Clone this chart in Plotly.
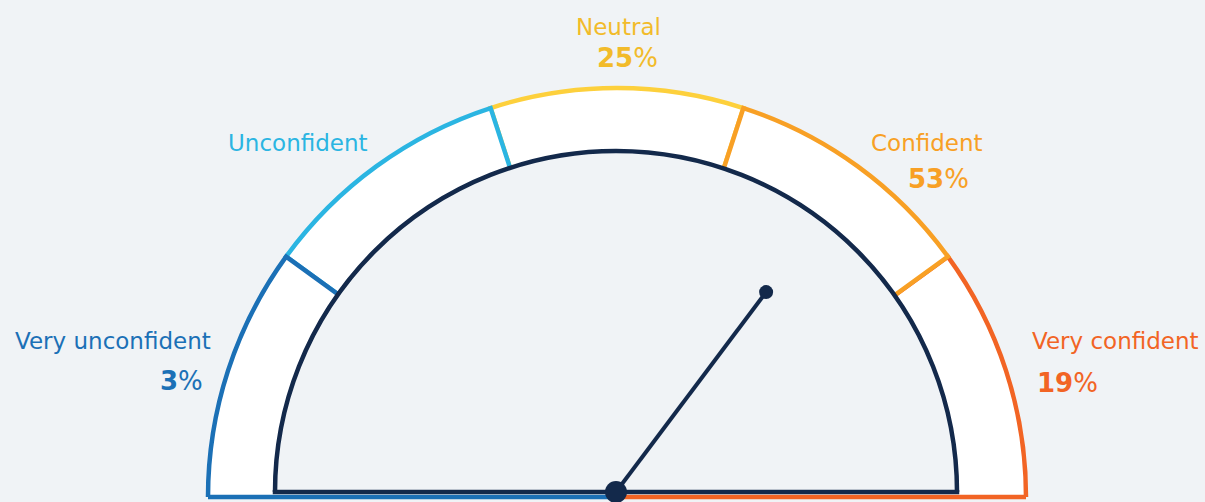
import plotly.graph_objects as go

# ---------------- data ----------------
categories = ["Very unconfident", "Unconfident", "Neutral", "Confident", "Very confident"]
percentages = [3, None, 25, 53, 19]          # Unconfident shows no percentage
seg_colors = ["#1b70b6", "#2bb5e2", "#fdd03c", "#f8a025", "#f26424"]
text_colors = ["#1b70b6", "#2bb5e2", "#f2bb2a", "#f8a025", "#f26424"]
needle_score = 3.82                          # on the 1..5 scale
scale_min, scale_max = 1, 5

# ---------------- styling / geometry ----------------
W, H = 1205, 502
BG = "#f0f3f6"
NAVY = "#13294b"
R_OUT = 409          # outer ring radius (px)
R_IN = 341           # inner semicircle radius (px)
PAD = 12             # radial padding so strokes are not clipped
C_RING = (617, 497)      # centre of outer ring (px, from top-left)
C_BASE = (617, 499.5)    # base coloured line (upper half of a thick line shows)
C_INNER = (616, 492)     # centre of inner semicircle
C_NAVYBASE = (616, 494.5)
LW = 4.5

def dom(c, r):
    cx, cy = c
    return dict(x=[(cx - r) / W, (cx + r) / W],
                y=[(H - cy) / H, (H - cy + r) / H])

n = len(categories)
span = 180.0 / n
centers = [span * i + span / 2 for i in range(n)]
draw_order = [2, 4, 1, 0, 3]

fig = go.Figure()

# ring segments (white band with coloured outline)
for i in draw_order:
    fig.add_trace(go.Barpolar(
        r=[R_OUT], base=[0], theta=[centers[i]], width=[span],
        marker=dict(color="white", line=dict(color=seg_colors[i], width=LW)),
        hoverinfo="skip", subplot="polar", name=categories[i]))

# bottom base lines of the ring (lower half is clipped at the sector edge)
fig.add_trace(go.Scatterpolar(r=[0, R_OUT], theta=[0, 0], mode="lines",
                              line=dict(color=seg_colors[0], width=2 * LW),
                              hoverinfo="skip", subplot="polar2"))
fig.add_trace(go.Scatterpolar(r=[0, R_OUT], theta=[180, 180], mode="lines",
                              line=dict(color=seg_colors[-1], width=2 * LW),
                              hoverinfo="skip", subplot="polar2"))

# inner semicircle
fig.add_trace(go.Barpolar(
    r=[R_IN], base=[0], theta=[90], width=[180],
    marker=dict(color=BG, line=dict(color=NAVY, width=LW)),
    hoverinfo="skip", subplot="polar3"))
fig.add_trace(go.Scatterpolar(
    r=[R_IN + LW / 2, 0, R_IN + LW / 2], theta=[0, 0, 180], mode="lines",
    line=dict(color=NAVY, width=2 * LW), hoverinfo="skip", subplot="polar4"))

# needle
needle_theta = (needle_score - scale_min) / (scale_max - scale_min) * 180
fig.add_trace(go.Scatterpolar(
    r=[0, 250], theta=[needle_theta, needle_theta], mode="lines",
    line=dict(color=NAVY, width=4), cliponaxis=False, hoverinfo="skip",
    subplot="polar5"))
fig.add_trace(go.Scatterpolar(
    r=[250, 0], theta=[needle_theta, needle_theta], mode="markers",
    marker=dict(color=NAVY, size=[14, 22], opacity=1, line=dict(width=0)),
    cliponaxis=False, hoverinfo="skip", subplot="polar5"))

def polar_cfg(c, r):
    return dict(
        domain=dom(c, r + PAD),
        sector=[0, 180],
        bgcolor="rgba(0,0,0,0)",
        angularaxis=dict(visible=False, rotation=180, direction="clockwise"),
        radialaxis=dict(visible=False, range=[0, r + PAD]),
    )

fig.update_layout(
    polar=polar_cfg(C_RING, R_OUT),
    polar2=polar_cfg(C_BASE, R_OUT),
    polar3=polar_cfg(C_INNER, R_IN),
    polar4=polar_cfg(C_NAVYBASE, R_IN),
    polar5=polar_cfg(C_INNER, R_IN),
)

# ---------------- labels ----------------
FONT = "DejaVu Sans"
label_pos = [  # (x, y, xanchor) in px for category name
    (213, 341, "right"),
    (298, 143, "center"),
    (619, 27, "center"),
    (927, 143, "center"),
    (1030, 341, "left"),
]
pct_pos = [
    (205, 381, "right"),
    None,
    (627, 58, "center"),
    (938, 179, "center"),
    (1035, 383, "left"),
]
ann = []
for i, cat in enumerate(categories):
    x, y, xa = label_pos[i]
    ann.append(dict(x=x / W, y=1 - y / H, xref="paper", yref="paper", text=cat,
                    xanchor=xa, yanchor="middle", showarrow=False,
                    font=dict(family=FONT, size=23, color=text_colors[i])))
    if percentages[i] is not None and pct_pos[i] is not None:
        x, y, xa = pct_pos[i]
        ann.append(dict(x=x / W, y=1 - y / H, xref="paper", yref="paper",
                        text=f"<b>{percentages[i]}</b>%",
                        xanchor=xa, yanchor="middle", showarrow=False,
                        font=dict(family=FONT, size=26, color=text_colors[i])))

fig.update_layout(
    width=W, height=H, margin=dict(l=0, r=0, t=0, b=0),
    paper_bgcolor=BG, plot_bgcolor=BG, showlegend=False,
    annotations=ann,
)

fig.write_html("out.html")
